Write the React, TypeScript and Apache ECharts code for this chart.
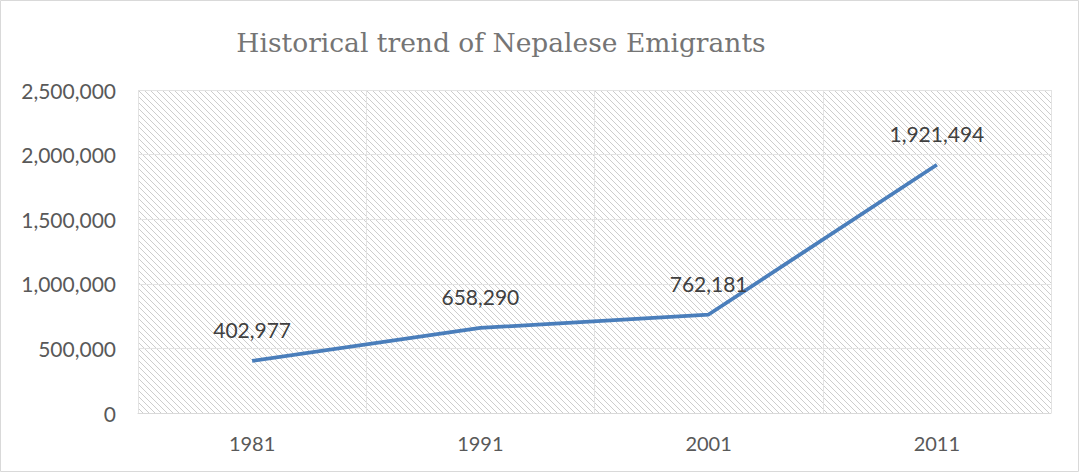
import React, { useEffect, useRef } from "react";
import * as echarts from "echarts";

const years = ["1981", "1991", "2001", "2011"];
const emigrants = [402977, 658290, 762181, 1921494];
const yTicks = { min: 0, max: 2500000, interval: 500000 };
const titleText = "Historical trend of Nepalese Emigrants";

function makeHatch(): HTMLCanvasElement {
  const size = 6;
  const c = document.createElement("canvas");
  c.width = size;
  c.height = size;
  const ctx = c.getContext("2d")!;
  ctx.fillStyle = "#ffffff";
  ctx.fillRect(0, 0, size, size);
  ctx.fillStyle = "#cdcdcd";
  for (let i = 0; i < size; i++) ctx.fillRect(i, i, 1, 1);
  return c;
}

export default function App() {
  const ref = useRef<HTMLDivElement>(null);
  useEffect(() => {
    if (!ref.current) return;
    const chart = echarts.init(ref.current, undefined, { renderer: "svg" });
    const fam = "Lato, Liberation Sans, Arial, sans-serif";
    const axisFont = { fontFamily: fam, fontSize: 21, color: "#595959" };
    chart.setOption({
      animation: false,
      backgroundColor: "#ffffff",
      title: {
        text: titleText,
        left: 496,
        top: 24,
        textAlign: "center",
        textStyle: { fontFamily: "DejaVu Serif, Liberation Serif, serif", fontSize: 26.5, fontWeight: "normal", color: "#757575" },
      },
      graphic: [
        {
          type: "rect",
          shape: { x: 0.5, y: 0.5, width: 1078, height: 471 },
          style: { fill: "none", stroke: "#d9d9d9", lineWidth: 1 },
          silent: true,
        },
      ],
      grid: {
        left: 138,
        right: 29,
        top: 90,
        bottom: 60,
        show: true,
        borderWidth: 0,
        backgroundColor: { image: makeHatch(), repeat: "repeat" },
      },
      xAxis: {
        type: "category",
        data: years,
        boundaryGap: true,
        axisLine: { show: true, lineStyle: { color: "#d9d9d9", width: 1 } },
        axisTick: { show: false },
        splitLine: { show: true, lineStyle: { color: "#e3e3e3", width: 1 } },
        axisLabel: { ...axisFont, fontSize: 20, margin: 20 },
      },
      yAxis: {
        type: "value",
        min: yTicks.min,
        max: yTicks.max,
        interval: yTicks.interval,
        axisLine: { show: false },
        axisTick: { show: false },
        splitLine: { show: true, lineStyle: { color: "#e3e3e3", width: 1 } },
        axisLabel: {
          ...axisFont,
          margin: 22,
          formatter: (v: number) => v.toLocaleString("en-US"),
        },
      },
      series: [
        {
          type: "line",
          data: emigrants,
          symbol: "circle",
          symbolSize: 2,
          showSymbol: true,
          itemStyle: { color: "rgba(74,126,187,0)" },
          lineStyle: { color: "#4a7ebb", width: 3.8 },
          label: {
            show: true,
            position: "top",
            distance: 20,
            fontFamily: fam,
            fontSize: 21,
            color: "#404040",
            formatter: (p: any) => Number(p.value).toLocaleString("en-US"),
          },
        },
      ],
    });
    return () => chart.dispose();
  }, []);
  return (
    <div
      ref={ref}
      style={{ position: "fixed", left: 0, top: 0, width: 1080, height: 473 }}
    />
  );
}
